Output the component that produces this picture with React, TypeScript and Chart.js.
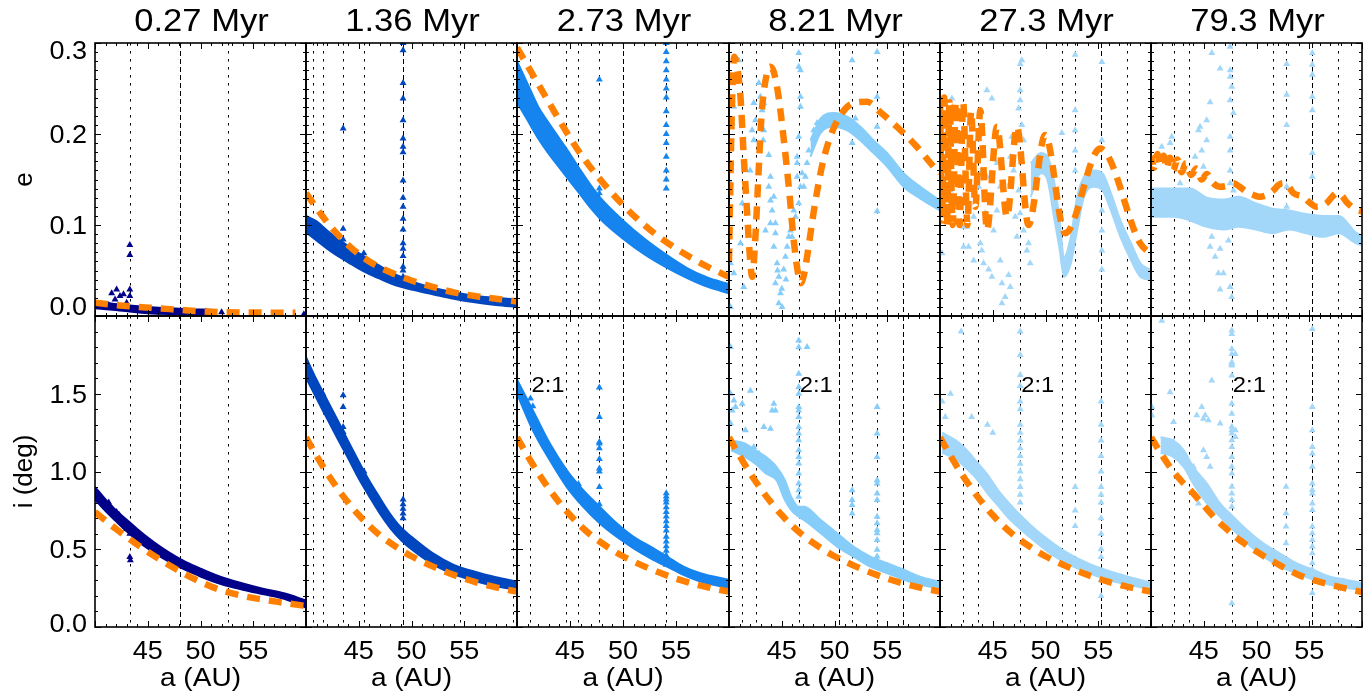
import React, { useEffect, useRef } from "react";
import { Chart, registerables } from "chart.js";
Chart.register(...registerables);

type Pt = [number, number];

// ---------------- labels ----------------
const TITLES = ["0.27 Myr", "1.36 Myr", "2.73 Myr", "8.21 Myr", "27.3 Myr", "79.3 Myr"];
const X_TICK_LABELS = [45, 50, 55];
const E_TICK_LABELS = [0.0, 0.1, 0.2, 0.3];
const I_TICK_LABELS = [0.0, 0.5, 1.0, 1.5];
const X_TITLE = "a (AU)";
const Y_TITLES = ["e", "i (deg)"];
const RES_LABEL = "2:1";
const RES_LABEL_I = 1.55;
const A_MIN = 40;
const A_MAX = 60;
const E_MAX = 0.3;
const I_MAX = 2.0;

const POINT_COLORS = ["#000088", "#0046BE", "#1684EE", "#87CDFA", "#A3D7F9", "#A3D7F9"];
const ORANGE = "#FF8000";

// ---------------- resonance lines (a, AU) ----------------
const VLINES_1 = [43.3, 48.05, 52.6];
const VLINES_2 = [40.62, 41.62, 43.52, 45.48, 49.2, 54.57, 59.62];
const VLINES_3 = [41.27, 44.58, 45.78, 47.77, 49.98, 54.08];
const VLINES_4 = [41.25, 42.6, 46.61, 50.4, 51.67, 54.04, 56.46];
const VLINES_5 = [42.18, 43.56, 47.6, 51.55, 52.81, 55.27, 57.71];
const VLINES_6 = [42.19, 43.61, 47.66, 51.54, 52.8, 55.29, 57.75];
const RES21 = [null, null, 41.27, 46.61, 47.6, 47.66];

// ---------------- panel 1 : 0.27 Myr ----------------
const p1eBandA = [40, 42.5, 45, 48, 51.2];
const p1eBandHi = [0.0157, 0.0125, 0.01, 0.008, 0.0066];
const p1eBandLo = [0.0085, 0.006, 0.003, 0.002, 0.001];
const p1eScatter: Pt[] = [[41.58, 0.025], [42.05, 0.029], [42.37, 0.022], [41.9, 0.018], [42.7, 0.024], [43.0, 0.0146], [43.3, 0.029], [43.3, 0.022], [43.3, 0.078], [43.3, 0.067], [42.2, 0.011], [41.7, 0.0095], [42.5, 0.0075], [41.3, 0.012], [59.8, 0.002], [52, 0.004], [50.5, 0.005]];
const p1eOrA = [40, 42, 44, 46, 48, 50, 52, 54, 56, 58, 59];
const p1eOrV = [0.0145, 0.012, 0.01, 0.0085, 0.0068, 0.0052, 0.0043, 0.0039, 0.0037, 0.0036, 0.0036];

const p1iBandA = [40, 41, 42, 43, 44, 45, 46, 47, 48, 49, 50, 52, 54, 56, 58, 60];
const p1iBandHi = [0.9, 0.82, 0.75, 0.69, 0.63, 0.575, 0.525, 0.48, 0.44, 0.405, 0.375, 0.32, 0.28, 0.245, 0.215, 0.17];
const p1iBandLo = [0.82, 0.745, 0.68, 0.615, 0.555, 0.505, 0.46, 0.42, 0.385, 0.355, 0.325, 0.275, 0.24, 0.21, 0.18, 0.125];
const p1iScatter: Pt[] = [[41.6, 0.76], [42.05, 0.74], [42.5, 0.7], [43.0, 0.63], [43.3, 0.6], [43.3, 0.45], [43.35, 0.43], [41.3, 0.8], [42.3, 0.72]];
const p1iOrA = [40, 42, 44, 46, 48, 50, 52, 54, 56, 58, 60];
const p1iOrV = [0.74, 0.63, 0.53, 0.44, 0.36, 0.29, 0.235, 0.2, 0.175, 0.155, 0.135];

// ---------------- panel 2 : 1.36 Myr ----------------
const p2eBandA = [40, 41, 42, 43, 44, 45, 46, 47, 48, 49, 50, 52, 54, 56, 58, 60];
const p2eBandHi = [0.11, 0.104, 0.094, 0.085, 0.077, 0.069, 0.062, 0.055, 0.048, 0.043, 0.038, 0.031, 0.026, 0.022, 0.02, 0.018];
const p2eBandLo = [0.092, 0.083, 0.074, 0.066, 0.059, 0.052, 0.046, 0.041, 0.036, 0.032, 0.029, 0.024, 0.019, 0.015, 0.012, 0.01];
const p2eScatter: Pt[] = [[43.52, 0.206], [43.52, 0.096], [43.52, 0.084], [45.48, 0.069], [49.2, 0.3], [49.2, 0.292], [49.2, 0.256], [49.2, 0.239], [49.2, 0.215], [49.2, 0.195], [49.2, 0.186], [49.2, 0.18], [49.2, 0.149], [49.2, 0.13], [49.2, 0.12], [49.2, 0.107], [49.2, 0.095], [49.2, 0.08], [49.2, 0.074], [49.2, 0.066], [49.2, 0.054], [49.2, 0.05], [49.2, 0.043], [48.5, 0.043], [47.2, 0.05], [40.6, 0.1], [41.2, 0.098], [41.8, 0.088], [42.5, 0.082], [44.2, 0.072]];
const p2eOrA = [40, 42, 44, 46, 48, 50, 52, 54, 56, 58, 60];
const p2eOrV = [0.135, 0.103, 0.078, 0.06, 0.048, 0.039, 0.032, 0.026, 0.022, 0.019, 0.016];

const p2iBandA = [40, 41, 42, 43, 44, 45, 46, 47, 48, 49, 50, 52, 54, 56, 58, 60];
const p2iBandHi = [1.735, 1.59, 1.46, 1.33, 1.195, 1.065, 0.94, 0.83, 0.725, 0.64, 0.58, 0.475, 0.4, 0.355, 0.32, 0.292];
const p2iBandLo = [1.605, 1.47, 1.34, 1.21, 1.085, 0.955, 0.84, 0.73, 0.635, 0.56, 0.5, 0.405, 0.34, 0.295, 0.262, 0.24];
const p2iScatter: Pt[] = [[43.52, 1.49], [43.52, 1.414], [43.52, 1.286], [43.52, 1.254], [49.2, 0.82], [49.2, 0.79], [49.2, 0.76], [49.2, 0.73], [49.2, 0.7], [45.5, 1.0], [41.6, 1.5]];

// shared orange inclination curve (panels 2-5)
const orIA = [40, 41, 42, 43, 44, 45, 46, 47, 48, 49, 50, 52, 54, 56, 58, 60];
const orIV = [1.22, 1.1, 0.99, 0.89, 0.8, 0.72, 0.65, 0.59, 0.54, 0.495, 0.455, 0.39, 0.335, 0.29, 0.255, 0.228];

// ---------------- panel 3 : 2.73 Myr ----------------
const p3eBandA = [40, 41, 42, 43, 44, 45, 46, 47, 48, 50, 52, 54, 56, 58, 60];
const p3eBandHi = [0.28, 0.255, 0.23, 0.212, 0.195, 0.178, 0.16, 0.143, 0.128, 0.105, 0.085, 0.068, 0.053, 0.042, 0.035];
const p3eBandLo = [0.235, 0.215, 0.195, 0.178, 0.163, 0.148, 0.133, 0.118, 0.105, 0.085, 0.068, 0.054, 0.042, 0.032, 0.025];
const p3eScatter: Pt[] = [[54.08, 0.3], [54.08, 0.29], [54.08, 0.28], [54.08, 0.27], [54.08, 0.26], [54.08, 0.25], [54.08, 0.24], [54.08, 0.225], [54.08, 0.21], [54.08, 0.2], [54.08, 0.19], [54.08, 0.175], [54.08, 0.16], [54.08, 0.15], [54.08, 0.14], [47.77, 0.26], [47.77, 0.14], [47.77, 0.135], [44.58, 0.17]];
const p3eOrA = [40, 41, 42, 43, 44, 45, 46, 48, 50, 52, 54, 56, 58, 60];
const p3eOrV = [0.295, 0.275, 0.255, 0.235, 0.215, 0.196, 0.178, 0.148, 0.122, 0.1, 0.082, 0.067, 0.054, 0.043];

const p3iBandA = [40, 41.5, 43.1, 44.7, 46.25, 47.8, 49.4, 51, 52.6, 54.15, 55.7, 57.3, 60];
const p3iBandHi = [1.59, 1.393, 1.18, 1.008, 0.88, 0.773, 0.667, 0.58, 0.517, 0.453, 0.388, 0.346, 0.303];
const p3iBandLo = [1.5, 1.265, 1.072, 0.9, 0.773, 0.667, 0.58, 0.506, 0.442, 0.388, 0.335, 0.292, 0.25];
const p3iScatter: Pt[] = [[47.77, 1.54], [47.77, 1.35], [47.77, 1.19], [47.77, 1.18], [47.77, 1.15], [47.77, 1.08], [47.77, 1.02], [47.77, 1.0], [47.77, 0.9], [47.77, 0.79], [54.08, 0.86], [54.08, 0.84], [54.08, 0.82], [54.08, 0.8], [54.08, 0.77], [54.08, 0.74], [54.08, 0.71], [54.08, 0.68], [54.08, 0.65], [54.08, 0.62], [54.08, 0.58], [54.08, 0.55], [54.08, 0.52], [54.08, 0.49], [54.08, 0.46], [54.08, 0.43], [54.08, 0.4], [41.27, 1.47], [41.5, 1.42], [45.8, 0.92]];

// ---------------- panel 4 : 8.21 Myr ----------------
const p4eBandA = [47.72, 48.67, 49.93, 51.2, 52.45, 53.7, 55, 56.55, 58.14, 60];
const p4eBandHi = [0.193, 0.217, 0.223, 0.219, 0.208, 0.193, 0.179, 0.157, 0.142, 0.127];
const p4eBandLo = [0.175, 0.201, 0.208, 0.204, 0.193, 0.179, 0.164, 0.142, 0.129, 0.116];
const p4eScatter: Pt[] = [[40.3, 0.237], [40.46, 0.23], [40.3, 0.212], [40.14, 0.146], [40.14, 0.058], [40.14, 0.01], [40.46, 0.047], [40.93, 0.281], [41.4, 0.032], [42.35, 0.234], [42.51, 0.215], [42.19, 0.204], [42.35, 0.193], [42.83, 0.256], [42.98, 0.241], [43.14, 0.226], [43.3, 0.234], [43.3, 0.204], [43.24, 0.193], [43.77, 0.177], [43.93, 0.153], [43.77, 0.142], [44.25, 0.131], [43.93, 0.127], [44.09, 0.116], [43.46, 0.094], [44.4, 0.102], [43.93, 0.102], [44.4, 0.091], [44.25, 0.076], [44.56, 0.058], [44.72, 0.043], [44.4, 0.036], [44.88, 0.025], [44.72, 0.014], [45.03, 0.01], [45.35, 0.065], [45.51, 0.076], [45.82, 0.094], [45.98, 0.087], [46.3, 0.109], [46.61, 0.124], [46.77, 0.142], [46.93, 0.157], [46.46, 0.168], [46.46, 0.175], [46.61, 0.197], [46.77, 0.23], [46.77, 0.241], [46.61, 0.274], [46.77, 0.27], [46.61, 0.289], [47.4, 0.168], [47.56, 0.182], [47.24, 0.153], [47.09, 0.142], [48.03, 0.204], [48.35, 0.212], [51.67, 0.281], [51.67, 0.19], [54.04, 0.29], [54.04, 0.241], [54.04, 0.208], [54.04, 0.115], [51.98, 0.217], [46.46, 0.153], [46.14, 0.116], [45.67, 0.087], [45.19, 0.051], [41.09, 0.08], [41.25, 0.124], [42.0, 0.16], [45.0, 0.03], [44.6, 0.05], [45.4, 0.04]];
const p4eOrA = [40.0, 40.15, 40.3, 40.5, 40.75, 41.09, 41.4, 41.72, 41.95, 42.2, 42.5, 42.8, 43.1, 43.6, 43.9, 44.25, 44.7, 45.2, 45.7, 46.1, 46.5, 46.8, 47.1, 47.4, 48.05, 48.8, 49.6, 50.7, 51.8, 53.1, 54.3, 55.9, 57.8, 59.4, 60];
const p4eOrV = [0.06, 0.16, 0.24, 0.285, 0.275, 0.241, 0.175, 0.113, 0.07, 0.043, 0.087, 0.157, 0.223, 0.267, 0.274, 0.268, 0.241, 0.193, 0.138, 0.087, 0.05, 0.036, 0.045, 0.065, 0.116, 0.164, 0.197, 0.223, 0.234, 0.2355, 0.2245, 0.208, 0.186, 0.164, 0.157];

const p4iBandA = [40.2, 41.5, 42.5, 43.5, 44.5, 45.3, 45.9, 46.6, 47.1, 48.7, 50.25, 51.8, 53.4, 55, 56.6, 58.1, 60];
const p4iBandHi = [1.2, 1.18, 1.137, 1.094, 1.03, 0.944, 0.837, 0.773, 0.773, 0.688, 0.603, 0.517, 0.453, 0.41, 0.367, 0.324, 0.29];
const p4iBandLo = [1.137, 1.094, 1.05, 0.987, 0.944, 0.816, 0.752, 0.709, 0.688, 0.603, 0.517, 0.453, 0.388, 0.346, 0.303, 0.271, 0.25];
const p4iScatter: Pt[] = [[46.61, 1.842], [46.61, 1.799], [46.61, 1.628], [46.61, 1.543], [46.61, 1.5], [46.61, 1.415], [46.61, 1.393], [46.61, 1.35], [46.61, 1.286], [46.61, 1.244], [46.61, 1.201], [46.61, 1.137], [46.61, 1.094], [46.61, 1.051], [46.61, 0.987], [46.61, 0.923], [46.61, 0.88], [46.61, 0.837], [47.4, 1.8], [40.14, 1.8], [40.14, 1.5], [40.46, 1.457], [40.3, 1.393], [40.14, 1.308], [40.62, 1.415], [41.25, 1.436], [42.03, 1.52], [41.56, 1.265], [43.3, 1.286], [43.93, 1.275], [44.25, 1.436], [44.4, 1.393], [44.09, 1.393], [42.35, 1.158], [42.83, 1.115], [43.93, 1.008], [44.25, 1.03], [44.56, 0.987], [51.67, 0.88], [51.67, 0.816], [51.67, 0.784], [51.67, 0.73], [54.04, 1.415], [54.04, 1.244], [54.04, 1.094], [54.04, 0.944], [54.04, 0.923], [54.04, 0.859], [54.04, 0.816], [54.04, 0.709], [54.04, 0.667], [54.04, 0.624], [54.04, 0.603], [54.04, 0.56], [54.04, 0.496], [54.04, 0.453]];

// ---------------- panel 5 : 27.3 Myr ----------------
const p5eBandA = [48.6, 49.55, 50.2, 50.8, 51.3, 51.77, 52.4, 53.0, 53.65, 54.6, 55.4, 56.2, 57.1, 58.1, 59.0, 60];
const p5eBandHi = [0.168, 0.179, 0.175, 0.149, 0.109, 0.065, 0.087, 0.131, 0.153, 0.16, 0.157, 0.135, 0.105, 0.08, 0.058, 0.0505];
const p5eBandLo = [0.131, 0.157, 0.149, 0.109, 0.076, 0.043, 0.058, 0.0945, 0.131, 0.142, 0.138, 0.116, 0.087, 0.0615, 0.043, 0.0396];
const p5eScatter: Pt[] = [[41.13, 0.239], [44.92, 0.239], [44.45, 0.248], [40.19, 0.069], [42.24, 0.076], [42.71, 0.076], [43.19, 0.061], [43.82, 0.08], [43.97, 0.072], [44.13, 0.058], [44.61, 0.051], [44.92, 0.043], [45.71, 0.061], [45.87, 0.036], [46.66, 0.032], [45.87, 0.014], [46.18, 0.021], [46.5, 0.045], [42.24, 0.098], [42.55, 0.098], [44.29, 0.113], [45.4, 0.116], [44.76, 0.124], [43.66, 0.142], [43.97, 0.16], [44.45, 0.153], [45.4, 0.168], [45.71, 0.142], [46.34, 0.12], [46.97, 0.16], [46.66, 0.146], [47.45, 0.138], [47.13, 0.109], [47.6, 0.113], [47.92, 0.094], [48.39, 0.08], [48.55, 0.058], [48.24, 0.072], [47.29, 0.087], [47.6, 0.277], [47.76, 0.281], [47.6, 0.248], [47.6, 0.237], [47.45, 0.228], [47.76, 0.21], [47.92, 0.193], [46.82, 0.197], [46.66, 0.175], [51.55, 0.201], [52.81, 0.287], [52.81, 0.226], [52.81, 0.204], [52.81, 0.182], [52.81, 0.16], [55.34, 0.279], [55.34, 0.193], [55.34, 0.051], [55.34, 0.072], [55.34, 0.116], [55.34, 0.094], [42.24, 0.204], [43.19, 0.109], [45.08, 0.094], [40.19, 0.124], [40.98, 0.138]];
const p5eOrA = [40.0, 40.2, 40.4, 40.65, 40.9, 41.2, 41.5, 41.85, 42.2, 42.6, 42.95, 43.35, 43.82, 44.45, 45.4, 46.35, 47.29, 48.39, 49.97, 51.87, 55.19, 58.97, 60];
const p5eOrV = [0.24, 0.105, 0.24, 0.1, 0.235, 0.1, 0.235, 0.1, 0.235, 0.1, 0.225, 0.12, 0.226, 0.0945, 0.208, 0.109, 0.208, 0.1, 0.199, 0.091, 0.184, 0.08, 0.068];

const p5iBandA = [40.2, 41.5, 42.5, 43.5, 44.5, 45.5, 46.5, 47.6, 49, 50.5, 52, 54, 56, 58, 60];
const p5iBandHi = [1.25, 1.2, 1.14, 1.06, 0.98, 0.88, 0.8, 0.72, 0.63, 0.55, 0.48, 0.41, 0.36, 0.32, 0.285];
const p5iBandLo = [1.12, 1.08, 1.02, 0.95, 0.86, 0.78, 0.7, 0.63, 0.55, 0.47, 0.41, 0.35, 0.3, 0.27, 0.24];
const p5iScatter: Pt[] = [[47.6, 1.9], [47.6, 1.75], [47.6, 1.62], [47.6, 1.55], [47.6, 1.45], [47.6, 1.4], [47.6, 1.3], [47.6, 1.25], [47.6, 1.2], [47.6, 1.15], [47.6, 1.1], [47.6, 1.05], [47.6, 1.0], [47.6, 0.95], [47.6, 0.9], [47.6, 0.85], [47.6, 0.8], [55.27, 1.45], [55.27, 1.3], [55.27, 1.2], [55.27, 1.1], [55.27, 1.0], [55.27, 0.9], [55.27, 0.85], [55.27, 0.8], [55.27, 0.7], [55.27, 0.6], [55.27, 0.5], [55.27, 0.45], [55.27, 0.35], [55.27, 0.3], [55.27, 0.2], [52.81, 0.9], [52.81, 0.75], [52.81, 0.65], [40.2, 1.45], [40.5, 1.35], [41.0, 1.5], [42.0, 1.9], [43.0, 1.35], [44.5, 1.3], [45.0, 1.25]];

// ---------------- panel 6 : 79.3 Myr ----------------
const p6eBandA = [40.1, 42.2, 43.7, 45.3, 46.9, 48.3, 49.9, 51.5, 53.1, 54.7, 56.3, 57.8, 59.4, 60];
const p6eBandHi = [0.14, 0.14, 0.14, 0.13, 0.128, 0.131, 0.124, 0.118, 0.116, 0.112, 0.11, 0.11, 0.092, 0.088];
const p6eBandLo = [0.109, 0.109, 0.105, 0.098, 0.095, 0.098, 0.095, 0.091, 0.095, 0.091, 0.087, 0.091, 0.08, 0.078];
const p6eScatter: Pt[] = [[45.76, 0.289], [47.5, 0.296], [47.5, 0.27], [47.5, 0.263], [47.65, 0.252], [47.5, 0.237], [47.81, 0.223], [46.55, 0.272], [45.6, 0.235], [45.28, 0.215], [44.65, 0.208], [44.5, 0.204], [41.97, 0.197], [41.81, 0.19], [41.02, 0.186], [45.28, 0.193], [44.81, 0.182], [44.18, 0.175], [47.5, 0.197], [47.5, 0.182], [47.5, 0.16], [47.5, 0.146], [47.81, 0.138], [44.97, 0.164], [44.02, 0.157], [42.76, 0.146], [42.45, 0.135], [40.24, 0.12], [41.34, 0.111], [45.6, 0.076], [45.76, 0.087], [46.55, 0.074], [46.39, 0.047], [46.86, 0.047], [46.55, 0.029], [47.5, 0.032], [47.65, 0.021], [47.34, 0.083], [52.86, 0.277], [52.86, 0.243], [52.86, 0.21], [52.86, 0.142], [52.86, 0.12], [55.29, 0.289], [55.29, 0.276], [55.29, 0.265], [55.29, 0.241], [55.29, 0.226], [55.29, 0.179], [55.29, 0.153], [55.29, 0.124], [46.08, 0.065], [45.28, 0.109]];
const p6eOrA = [40, 40.3, 40.6, 40.9, 41.2, 41.5, 41.8, 42.1, 42.5, 42.9, 43.3, 43.8, 44.3, 44.8, 45.3, 45.9, 46.55, 47.2, 47.8, 48.4, 49.1, 49.7, 50.3, 51.0, 51.6, 52.1, 52.5, 53.0, 53.5, 54.4, 55.1, 55.7, 56.2, 56.65, 57.1, 57.6, 58.1, 58.55, 59.3, 60];
const p6eOrV = [0.176, 0.163, 0.178, 0.165, 0.176, 0.162, 0.174, 0.16, 0.172, 0.158, 0.168, 0.155, 0.162, 0.15, 0.156, 0.146, 0.142, 0.143, 0.146, 0.142, 0.136, 0.133, 0.131, 0.133, 0.138, 0.144, 0.146, 0.143, 0.135, 0.131, 0.124, 0.12, 0.121, 0.124, 0.13, 0.135, 0.132, 0.125, 0.118, 0.115];

const p6iBandA = [40.9, 42.1, 43.1, 44.0, 45.3, 46.55, 47.8, 49.1, 50.65, 52.2, 53.8, 55.4, 56.97, 58.55, 60];
const p6iBandHi = [1.22, 1.2, 1.137, 1.03, 0.923, 0.795, 0.709, 0.624, 0.538, 0.474, 0.41, 0.367, 0.324, 0.303, 0.282];
const p6iBandLo = [1.12, 1.094, 1.03, 0.923, 0.795, 0.709, 0.624, 0.538, 0.453, 0.388, 0.346, 0.303, 0.271, 0.25, 0.239];
const p6iScatter: Pt[] = [[41.02, 1.97], [41.81, 1.51], [42.13, 1.318], [42.13, 1.158], [42.76, 1.094], [43.08, 1.051], [44.02, 1.03], [44.5, 0.795], [44.81, 1.415], [44.97, 1.34], [45.13, 1.362], [45.44, 1.33], [44.34, 1.362], [45.76, 1.585], [44.97, 1.137], [45.28, 1.094], [45.6, 1.03], [46.55, 1.308], [40.08, 1.415], [40.08, 1.36], [42.13, 1.19], [47.66, 1.906], [47.66, 1.885], [47.66, 1.788], [47.66, 1.756], [47.66, 1.703], [47.66, 1.692], [47.66, 1.682], [47.66, 1.618], [47.66, 1.436], [47.66, 1.372], [47.66, 1.287], [47.66, 1.265], [47.66, 1.244], [47.66, 1.201], [47.66, 1.158], [47.66, 1.094], [47.66, 1.03], [47.66, 0.987], [47.66, 0.902], [47.66, 0.859], [47.66, 0.817], [47.66, 0.774], [47.66, 0.153], [48.0, 1.265], [48.0, 1.222], [48.0, 1.756], [52.8, 0.902], [52.8, 0.731], [52.8, 0.646], [52.8, 0.539], [55.29, 1.917], [55.29, 1.415], [55.29, 1.265], [55.29, 1.158], [55.29, 1.116], [55.29, 1.03], [55.29, 0.923], [55.29, 0.881], [55.29, 0.859], [55.29, 0.795], [55.29, 0.752], [55.29, 0.646], [55.29, 0.603], [55.29, 0.56], [55.29, 0.518], [55.29, 0.475], [55.29, 0.411], [55.29, 0.368], [55.29, 0.219]];
const p6iOrA = [40, 41, 42, 43, 44, 45, 46, 47, 48, 49, 50, 52, 54, 56, 58, 60];
const p6iOrV = [1.22, 1.11, 1.01, 0.93, 0.86, 0.78, 0.705, 0.64, 0.58, 0.53, 0.485, 0.405, 0.335, 0.29, 0.255, 0.225];

// ---------------- assembly ----------------
interface PanelSpec {
  col: number;
  row: number;
  bandA: number[];
  bandHi: number[];
  bandLo: number[];
  scatter: Pt[];
  orA: number[];
  orV: number[];
  vlines: number[];
  dashed: number[];
}

const VLINES = [VLINES_1, VLINES_2, VLINES_3, VLINES_4, VLINES_5, VLINES_6];
const DASHED_IDX = [[1], [4], [4], [3, 6], [5], [5]];

const TOP_DATA = [
  [p1eBandA, p1eBandHi, p1eBandLo, p1eScatter, p1eOrA, p1eOrV],
  [p2eBandA, p2eBandHi, p2eBandLo, p2eScatter, p2eOrA, p2eOrV],
  [p3eBandA, p3eBandHi, p3eBandLo, p3eScatter, p3eOrA, p3eOrV],
  [p4eBandA, p4eBandHi, p4eBandLo, p4eScatter, p4eOrA, p4eOrV],
  [p5eBandA, p5eBandHi, p5eBandLo, p5eScatter, p5eOrA, p5eOrV],
  [p6eBandA, p6eBandHi, p6eBandLo, p6eScatter, p6eOrA, p6eOrV],
] as any[];
const BOT_DATA = [
  [p1iBandA, p1iBandHi, p1iBandLo, p1iScatter, p1iOrA, p1iOrV],
  [p2iBandA, p2iBandHi, p2iBandLo, p2iScatter, orIA, orIV],
  [p3iBandA, p3iBandHi, p3iBandLo, p3iScatter, orIA, orIV],
  [p4iBandA, p4iBandHi, p4iBandLo, p4iScatter, orIA, orIV],
  [p5iBandA, p5iBandHi, p5iBandLo, p5iScatter, orIA, orIV],
  [p6iBandA, p6iBandHi, p6iBandLo, p6iScatter, p6iOrA, p6iOrV],
] as any[];

const PANELS: PanelSpec[] = [];
for (let row = 0; row < 2; row++) {
  for (let col = 0; col < 6; col++) {
    const d = (row === 0 ? TOP_DATA : BOT_DATA)[col];
    PANELS.push({ col, row, bandA: d[0], bandHi: d[1], bandLo: d[2], scatter: d[3], orA: d[4], orV: d[5], vlines: VLINES[col], dashed: DASHED_IDX[col] });
  }
}

// ---------------- layout ----------------
const FIG_W = 1372;
const FIG_H = 694;
const COL_EDGES = [95, 306, 517, 729, 940, 1151, 1362];
const ROW_EDGES = [43, 316, 627];
const FONT = '"Liberation Sans", Arial, Helvetica, sans-serif';
const TEXT_STRETCH = 1.08;

function geom(col: number, row: number) {
  const L = COL_EDGES[col], R = COL_EDGES[col + 1];
  const T = ROW_EDGES[row], B = ROW_EDGES[row + 1];
  const padL = col === 0 ? L : 6;
  const padR = 6;
  const padT = row === 0 ? T : 6;
  const padB = row === 1 ? FIG_H - B : 6;
  return { cl: L - padL, ct: T - padT, cw: R - L + padL + padR, ch: B - T + padT + padB, padL, padR, padT, padB };
}

// draws text with a slight horizontal stretch (anchor kept at x,y)
function sText(ctx: CanvasRenderingContext2D, t: string, x: number, y: number) {
  ctx.save();
  ctx.translate(x, y);
  ctx.scale(TEXT_STRETCH, 1);
  ctx.fillText(t, 0, 0);
  ctx.restore();
}

function makeDeco(spec: PanelSpec) {
  return {
    id: "deco",
    beforeDatasetsDraw(chart: any) {
      const { ctx, chartArea: ca } = chart;
      const xs = chart.scales.x;
      ctx.save();
      ctx.strokeStyle = "#000";
      ctx.lineWidth = 1;
      spec.vlines.forEach((a, k) => {
        const px = Math.round(xs.getPixelForValue(a)) + 0.5;
        ctx.setLineDash(spec.dashed.includes(k) ? [5, 3] : [2.5, 5.5]);
        ctx.beginPath();
        ctx.moveTo(px, ca.top);
        ctx.lineTo(px, ca.bottom);
        ctx.stroke();
      });
      ctx.restore();
    },
    afterDatasetsDraw(chart: any) {
      const { ctx, chartArea: ca } = chart;
      const xs = chart.scales.x;
      const ys = chart.scales.y;
      const row = spec.row, col = spec.col;
      ctx.save();
      ctx.setLineDash([]);
      ctx.strokeStyle = "#000";
      ctx.lineWidth = 1;
      const seg = (x1: number, y1: number, x2: number, y2: number) => {
        ctx.beginPath();
        ctx.moveTo(x1, y1);
        ctx.lineTo(x2, y2);
        ctx.stroke();
      };
      for (let a = A_MIN; a <= A_MAX; a += 1) {
        const px = Math.round(xs.getPixelForValue(a)) + 0.5;
        const len = a % 5 === 0 ? 6 : 3;
        seg(px, ca.bottom, px, ca.bottom - len);
        seg(px, ca.top, px, ca.top + len);
      }
      const yMax = row === 0 ? E_MAX : I_MAX;
      const nMinor = row === 0 ? 30 : 20;
      const majorEvery = row === 0 ? 10 : 5;
      for (let k = 0; k <= nMinor; k++) {
        const v = (k / nMinor) * yMax;
        const py = Math.round(ys.getPixelForValue(v)) + 0.5;
        const len = k % majorEvery === 0 ? 6 : 3;
        seg(ca.left, py, ca.left + len, py);
        seg(ca.right, py, ca.right - len, py);
      }
      ctx.lineWidth = 1.6;
      ctx.strokeRect(ca.left, ca.top, ca.right - ca.left, ca.bottom - ca.top);

      ctx.fillStyle = "#000";
      const res = RES21[col];
      if (row === 1 && res !== null) {
        ctx.font = `22px ${FONT}`;
        ctx.textAlign = "left";
        ctx.textBaseline = "middle";
        sText(ctx, RES_LABEL, xs.getPixelForValue(res) + 1, ys.getPixelForValue(RES_LABEL_I));
      }
      if (row === 0) {
        ctx.font = `32px ${FONT}`;
        ctx.textAlign = "center";
        ctx.textBaseline = "middle";
        sText(ctx, TITLES[col], (ca.left + ca.right) / 2 + 1, ca.top - 21);
      }
      if (row === 1) {
        ctx.font = `25px ${FONT}`;
        ctx.textAlign = "center";
        ctx.textBaseline = "middle";
        X_TICK_LABELS.forEach((v) => sText(ctx, String(v), xs.getPixelForValue(v), ca.bottom + 25));
        ctx.font = `26px ${FONT}`;
        sText(ctx, X_TITLE, (ca.left + ca.right) / 2, ca.bottom + 52);
      }
      if (col === 0) {
        ctx.font = `25px ${FONT}`;
        ctx.textAlign = "right";
        ctx.textBaseline = "middle";
        const labels = row === 0 ? E_TICK_LABELS : I_TICK_LABELS;
        labels.forEach((v) => {
          let py = ys.getPixelForValue(v) + 2;
          py = Math.max(ca.top + 9, Math.min(py, ca.bottom - (row === 0 ? 8 : 2)));
          sText(ctx, v.toFixed(1), ca.left - 8, py);
        });
        ctx.save();
        ctx.font = `26px ${FONT}`;
        ctx.textAlign = "center";
        ctx.textBaseline = "middle";
        ctx.translate(ca.left - 70, (ca.top + ca.bottom) / 2);
        ctx.rotate(-Math.PI / 2);
        ctx.fillText(Y_TITLES[row], 0, 0);
        ctx.restore();
      }
      ctx.restore();
    },
  };
}

function Panel({ spec }: { spec: PanelSpec }) {
  const ref = useRef<HTMLCanvasElement>(null);
  const g = geom(spec.col, spec.row);
  useEffect(() => {
    const canvas = ref.current;
    if (!canvas) return;
    const color = POINT_COLORS[spec.col];
    const toXY = (a: number[], v: number[]) => a.map((x, i) => ({ x, y: v[i] }));
    const chart = new Chart(canvas, {
      type: "line",
      data: {
        datasets: [
          {
            data: toXY(spec.orA, spec.orV),
            borderColor: ORANGE,
            borderWidth: 6.5,
            borderDash: [13, 9],
            borderCapStyle: "butt",
            pointRadius: 0,
            fill: false,
            cubicInterpolationMode: "monotone",
            order: 0,
          },
          {
            data: spec.scatter.map(([x, y]) => ({ x, y })),
            showLine: false,
            pointStyle: "triangle",
            pointRadius: 4,
            pointBackgroundColor: color,
            pointBorderColor: color,
            pointBorderWidth: 0,
            order: 1,
          },
          {
            data: toXY(spec.bandA, spec.bandHi),
            borderColor: color,
            backgroundColor: color,
            borderWidth: 2,
            pointRadius: 0,
            fill: "+1",
            cubicInterpolationMode: "monotone",
            order: 2,
          },
          {
            data: toXY(spec.bandA, spec.bandLo),
            borderColor: color,
            backgroundColor: color,
            borderWidth: 2,
            pointRadius: 0,
            fill: false,
            cubicInterpolationMode: "monotone",
            order: 2,
          },
        ] as any,
      },
      options: {
        animation: false,
        responsive: false,
        maintainAspectRatio: false,
        events: [],
        layout: { padding: { left: g.padL, right: g.padR, top: g.padT, bottom: g.padB } },
        scales: {
          x: { type: "linear", min: A_MIN, max: A_MAX, display: false },
          y: { type: "linear", min: 0, max: spec.row === 0 ? E_MAX : I_MAX, display: false },
        },
        plugins: { legend: { display: false }, tooltip: { enabled: false } },
      } as any,
      plugins: [makeDeco(spec) as any],
    });
    return () => chart.destroy();
  }, []);
  return (
    <canvas
      ref={ref}
      width={g.cw}
      height={g.ch}
      style={{ position: "absolute", left: g.cl, top: g.ct, width: g.cw, height: g.ch }}
    />
  );
}

export default function App() {
  return (
    <div style={{ position: "absolute", left: 0, top: 0, width: FIG_W, height: FIG_H, background: "#fff", overflow: "hidden" }}>
      {PANELS.map((p) => (
        <Panel key={`${p.row}-${p.col}`} spec={p} />
      ))}
    </div>
  );
}
